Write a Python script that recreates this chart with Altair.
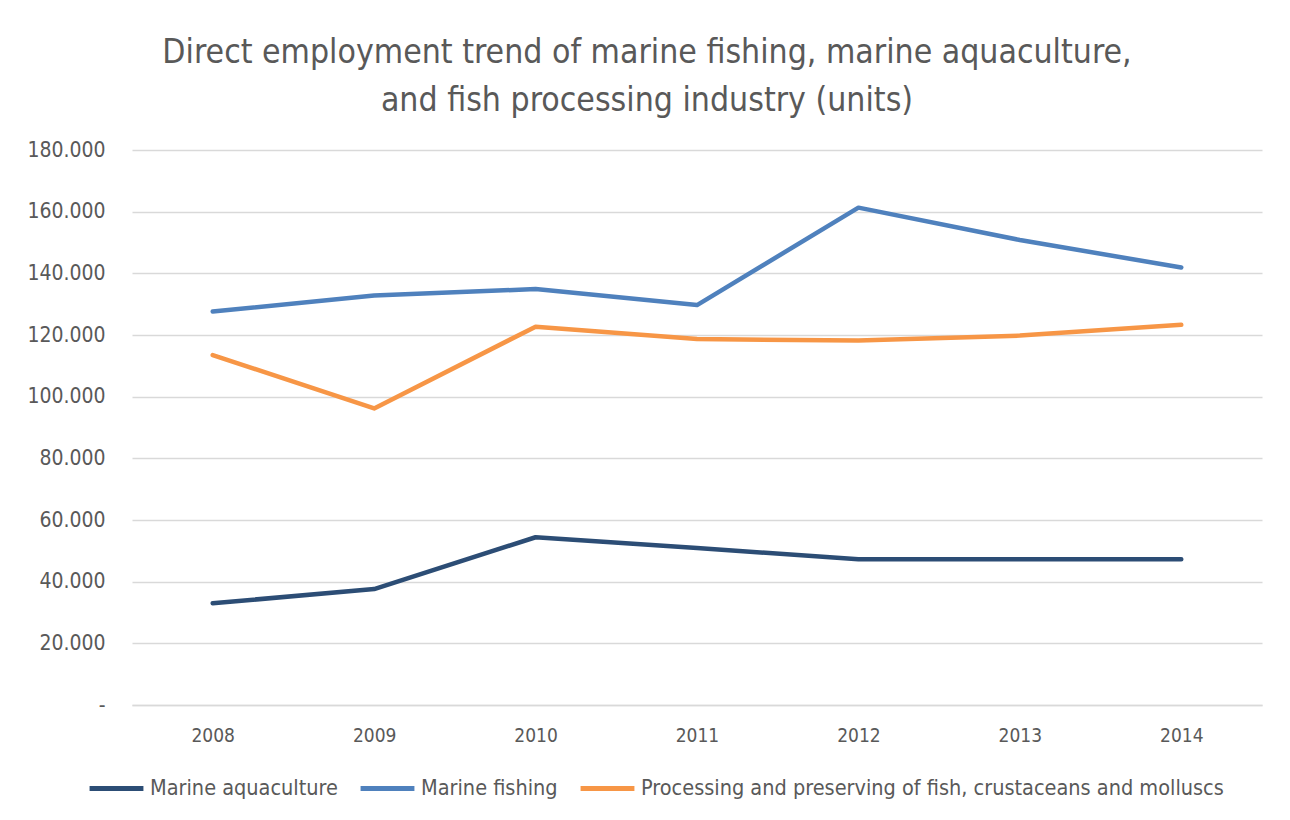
import altair as alt
import pandas as pd

years = ["2008", "2009", "2010", "2011", "2012", "2013", "2014"]
aquaculture = [33000, 37600, 54400, 50900, 47300, 47300, 47300]
fishing = [127600, 132800, 134900, 129700, 161300, 150800, 141900]
processing = [113500, 96200, 122700, 118700, 118200, 119800, 123300]

series_names = [
    "Marine aquaculture",
    "Marine fishing",
    "Processing and preserving of fish, crustaceans and molluscs",
]
series_colors = ["#2C4D75", "#4F81BD", "#F79646"]

rows = []
for name, vals in zip(series_names, [aquaculture, fishing, processing]):
    for y, v in zip(years, vals):
        rows.append({"Year": y, "Series": name, "Value": v})
df = pd.DataFrame(rows)

FONT = "Liberation Sans Narrow, DejaVu Sans Condensed, Lato, sans-serif"
TXT = "#595959"

chart = (
    alt.Chart(df)
    .mark_line(strokeWidth=4.5, strokeCap="round", strokeJoin="round")
    .encode(
        x=alt.X(
            "Year:N",
            sort=years,
            title=None,
            scale=alt.Scale(paddingInner=0, paddingOuter=0.5),
            axis=alt.Axis(
                labelAngle=0,
                ticks=False,
                domain=True,
                domainColor="#D9D9D9",
                domainWidth=1.5,
                labelPadding=21,
                labelFontSize=19,
                labelColor=TXT,
                labelFont=FONT,
                grid=False,
            ),
        ),
        y=alt.Y(
            "Value:Q",
            title=None,
            scale=alt.Scale(domain=[0, 180000], nice=False),
            axis=alt.Axis(
                values=list(range(0, 180001, 20000)),
                ticks=False,
                domain=False,
                grid=True,
                gridColor="#D9D9D9",
                gridWidth=1.5,
                labelPadding=27,
                labelFontSize=21,
                labelColor=TXT,
                labelFont=FONT,
                labelExpr="datum.value == 0 ? '-\u00a0\u00a0\u00a0' : replace(format(datum.value, ',.0f'), ',', '.')",
            ),
        ),
        color=alt.Color(
            "Series:N",
            scale=alt.Scale(domain=series_names, range=series_colors),
            legend=alt.Legend(
                title=None,
                orient="none",
                direction="horizontal",
                legendX=-45,
                legendY=609,
                symbolType="stroke",
                symbolSize=2900,
                symbolStrokeWidth=5,
                labelFontSize=21.5,
                labelColor=TXT,
                labelFont=FONT,
                labelOffset=4,
                columnPadding=12,
                labelLimit=900,
            ),
        ),
    )
    .properties(
        width=1130,
        height=555,
        padding={"left": 132, "top": 150, "right": 28, "bottom": 115},
        autosize=alt.AutoSizeParams(type="none"),
        title=alt.TitleParams(
            text=[
                "Direct employment trend of marine fishing, marine aquaculture,",
                "and fish processing industry (units)",
            ],
            fontSize=33.5,
            font=FONT,
            fontWeight="normal",
            color=TXT,
            anchor="middle",
            dx=-50,
            offset=21,
            lineHeight=48,
        ),
    )
    .configure(background="white")
    .configure_view(stroke=None)
)

chart.save("out.html", embed_options={"renderer": "svg", "actions": False})
